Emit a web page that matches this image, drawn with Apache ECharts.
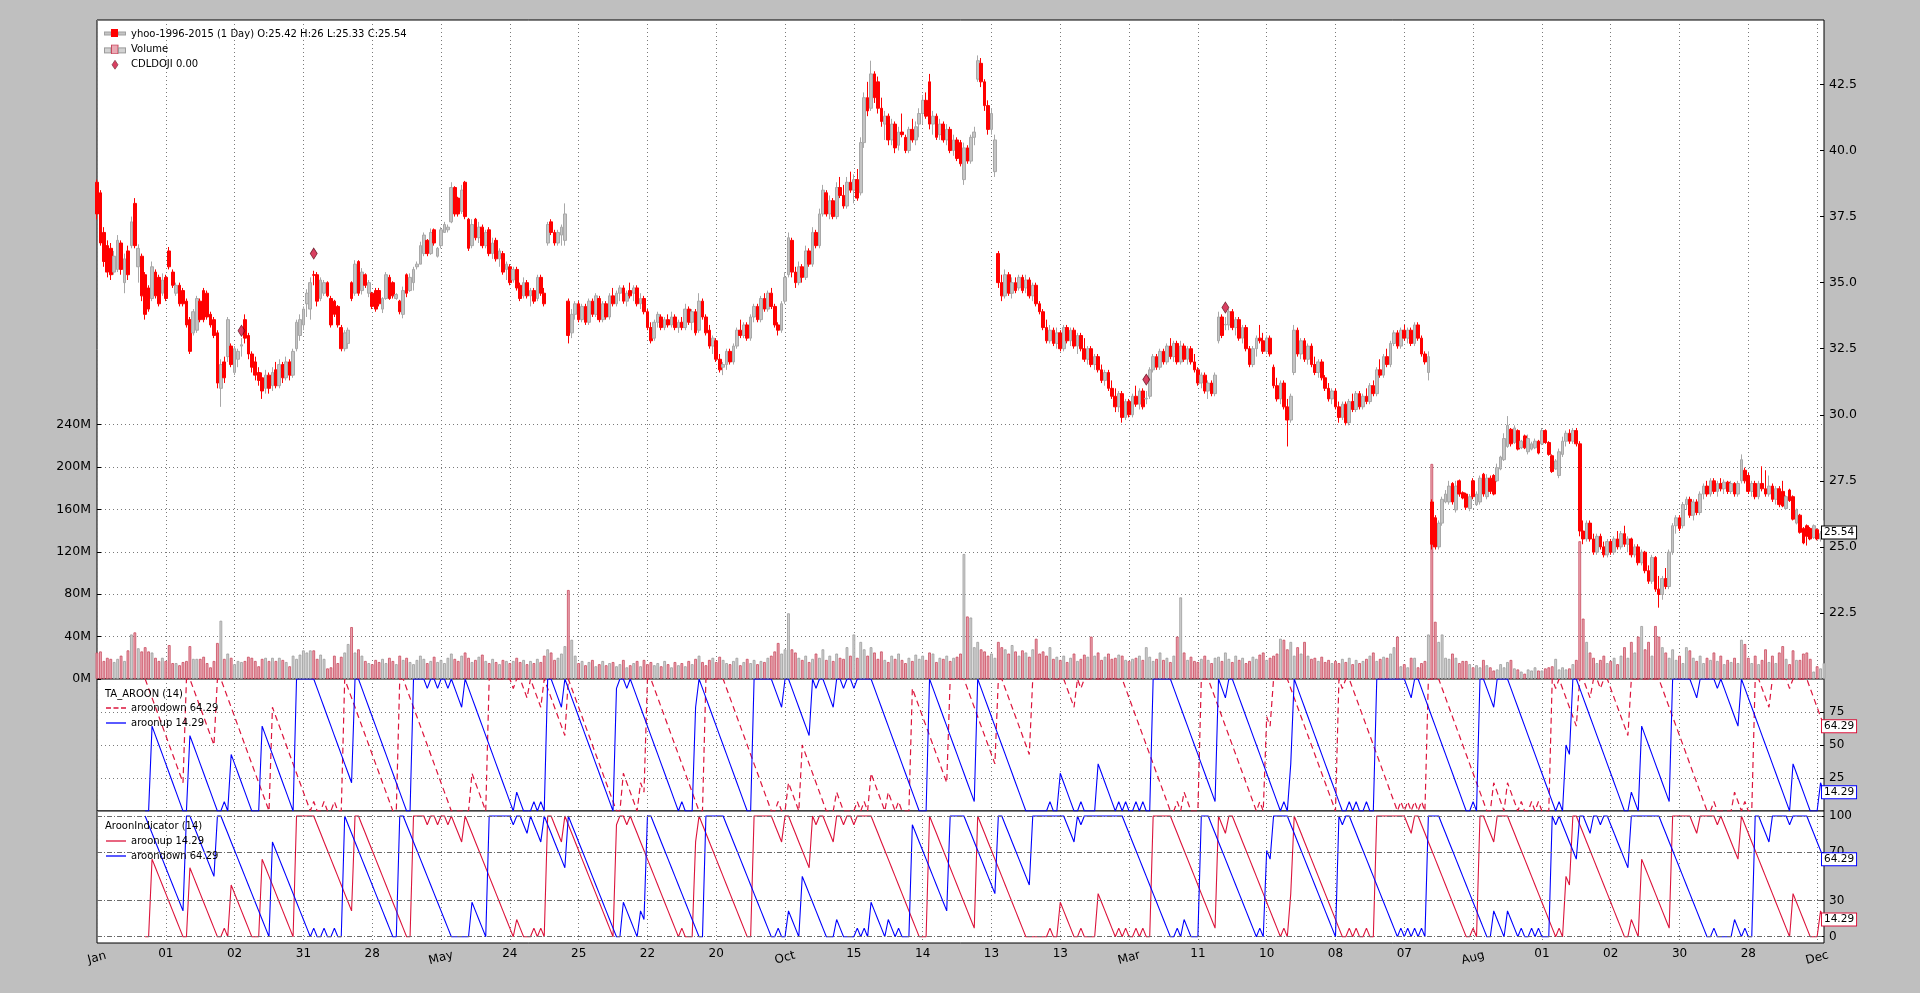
<!DOCTYPE html>
<html><head><meta charset="utf-8">
<script src="https://cdn.jsdelivr.net/npm/echarts@6/dist/echarts.min.js"></script>
<style>html,body{margin:0;padding:0;background:#bfbfbf;}#c{width:1920px;height:993px;}</style>
</head><body><div id="c"></div>
<script>
const tickLabels = ['Jan','01','02','31','28','May','24','25','22','20','Oct','15','14','13','13','Mar','11','10','08','07','Aug','01','02','30','28','Dec'];
const opens = [
38.8,38.4,36.9,36.4,36.3,35.4,35.5,36.5,35.0,36.2,
36.4,38.0,35.6,36.0,35.3,34.8,34.4,35.4,35.2,34.6,
35.2,36.2,35.4,34.6,34.9,34.7,34.3,33.6,33.1,33.2,
34.3,34.7,34.6,33.8,33.6,33.1,31.0,32.0,32.2,32.6,
31.6,32.1,32.6,33.6,33.0,32.3,32.0,31.6,31.4,31.0,
31.5,31.1,31.7,31.1,31.9,31.4,32.0,31.5,32.5,33.0,
33.4,34.2,34.0,35.3,35.3,34.4,34.6,35.0,34.4,34.3,
34.1,33.3,32.5,32.7,35.0,34.6,35.8,34.7,35.3,34.6,
34.6,34.7,34.7,34.0,34.4,35.2,35.0,34.4,34.3,33.8,
35.3,34.7,35.0,35.6,35.7,36.1,36.6,36.1,37.0,36.0,
36.4,36.9,37.0,37.3,38.6,38.2,37.7,38.8,37.4,36.4,
37.4,36.7,37.1,36.4,37.0,36.1,36.6,35.9,36.1,35.5,
35.6,35.1,35.5,34.9,34.5,35.0,34.5,34.7,34.4,35.2,
34.6,36.5,37.3,36.9,36.5,36.8,36.6,34.3,33.1,33.8,
34.2,33.6,34.1,33.5,34.3,33.8,34.4,33.6,34.2,33.7,
34.5,34.2,34.6,34.8,34.3,34.7,34.6,34.8,34.2,34.4,
33.9,33.3,32.9,33.5,33.7,33.3,33.6,33.4,33.7,33.3,
33.5,33.3,34.0,33.5,33.9,33.2,34.3,33.7,33.2,32.6,
32.8,32.1,31.8,31.9,32.4,32.0,32.6,33.2,33.0,33.4,
32.9,33.7,34.1,33.6,34.4,34.0,34.6,34.1,33.4,33.2,
34.3,35.3,36.6,35.4,35.0,35.6,35.2,36.2,35.7,36.9,
36.4,37.6,38.4,37.6,38.1,37.5,38.6,38.3,37.9,38.8,
38.5,38.9,38.4,40.3,42.0,41.6,42.9,42.6,41.6,41.0,
41.3,40.4,41.0,40.2,40.7,40.5,40.0,40.8,40.4,41.0,
41.4,41.9,42.6,41.0,41.3,40.6,41.0,40.4,40.8,40.0,
40.4,40.3,38.9,40.1,39.6,40.5,42.7,43.3,42.6,41.7,
40.8,39.2,36.1,35.0,34.5,35.3,34.6,35.0,34.8,35.2,
34.8,35.1,34.5,34.9,34.2,33.9,33.3,32.8,33.2,32.7,
33.1,32.5,33.3,32.8,33.2,32.6,33.0,32.5,32.1,32.5,
31.9,32.2,31.7,31.3,31.6,31.0,30.7,30.3,30.8,29.9,
30.5,30.0,30.7,30.4,30.9,30.6,30.7,31.7,32.2,31.8,
32.4,32.0,32.6,32.2,32.7,32.0,32.6,32.1,32.5,32.0,
31.7,31.2,31.5,30.9,31.2,30.8,32.8,33.7,33.4,33.4,
33.9,33.3,33.6,32.9,33.3,32.5,31.9,32.5,32.9,32.8,
32.4,32.9,31.8,31.1,30.6,31.2,30.3,29.8,31.6,33.2,
32.3,32.8,32.1,32.6,31.9,31.6,32.0,31.4,31.0,30.6,
30.9,30.3,29.9,30.4,29.7,30.5,30.2,30.8,30.3,30.7,
30.5,31.1,30.8,31.7,31.5,32.2,31.9,32.7,33.1,32.6,
33.2,32.9,33.2,32.7,33.4,32.9,32.3,31.6,26.7,26.1,
25.0,25.9,26.7,26.7,27.4,26.4,27.5,27.05,27.0,26.45,
27.5,26.6,26.7,27.75,26.9,27.6,27.7,27.5,27.95,28.3,
28.8,29.45,28.95,29.4,28.75,29.2,28.6,28.7,28.75,29.0,
28.9,29.4,28.95,28.45,27.95,27.7,28.5,29.0,29.3,29.0,
29.4,28.9,25.6,25.3,25.9,25.3,24.8,25.4,25.0,24.7,
25.2,24.8,25.3,25.0,25.5,25.1,25.3,24.7,25.0,24.4,
24.8,24.1,23.7,24.6,23.4,23.2,23.8,23.5,24.8,25.8,
26.1,25.8,26.6,26.8,26.2,26.7,26.3,27.0,27.3,27.0,
27.5,27.1,27.4,27.2,27.45,27.1,27.4,27.0,27.5,27.9,
27.7,27.1,27.4,26.9,27.4,27.2,27.0,27.3,26.8,27.2,
27.1,26.45,27.15,26.9,25.9,26.2,25.7,25.8,25.7,25.35,
25.65,25.3,25.42];
const highs = [
38.9,38.5,37.1,36.6,36.5,36.2,36.8,36.6,36.1,36.4,
37.5,38.2,36.45,36.1,35.4,34.9,35.8,35.5,35.3,35.35,
35.3,36.35,35.5,35.0,35.0,34.8,34.4,33.7,34.0,34.5,
34.4,34.8,34.7,33.9,33.7,33.2,32.1,32.2,33.7,32.7,
32.6,32.5,32.9,33.8,33.1,32.4,32.2,31.8,31.6,31.7,
31.6,31.8,32.0,32.1,32.0,32.2,32.1,32.5,33.6,33.8,
34.1,34.75,35.2,35.45,35.4,35.2,35.1,35.05,34.5,34.35,
34.15,33.4,33.2,33.3,35.05,35.85,35.85,35.55,35.35,35.1,
34.65,34.8,34.8,34.45,35.4,35.3,35.05,34.6,34.35,34.85,
35.35,35.35,35.6,35.8,36.55,36.9,36.65,37.05,37.05,36.35,
37.1,37.3,37.2,38.8,38.65,38.25,38.7,38.85,37.45,37.4,
37.45,37.3,37.2,37.0,37.1,36.7,36.7,36.3,36.2,35.8,
35.7,35.6,35.6,35.0,35.2,35.1,34.8,34.8,35.3,35.3,
34.8,37.3,37.4,37.0,37.0,37.2,38.0,34.4,34.0,34.3,
34.3,34.2,34.2,34.4,34.4,34.6,34.5,34.3,34.3,34.6,
34.8,34.7,34.9,34.9,34.7,35.0,34.9,34.9,34.6,34.5,
34.0,33.5,33.6,33.9,33.8,33.7,33.8,33.9,33.8,33.6,
33.7,34.2,34.1,34.0,34.0,34.6,34.4,33.8,33.4,33.0,
32.9,32.3,32.0,32.5,32.5,32.7,33.3,33.6,33.5,33.5,
33.8,34.2,34.2,34.5,34.6,34.7,34.8,34.2,33.5,34.3,
35.4,36.9,36.7,35.6,35.8,35.7,36.4,36.3,37.1,37.0,
37.8,38.7,38.5,38.3,38.2,38.8,39.0,38.7,39.0,39.2,
39.1,39.3,40.5,42.2,42.6,43.4,43.0,42.8,42.0,41.5,
41.4,41.2,41.1,40.9,41.4,40.6,40.9,41.2,41.1,41.6,
42.1,42.2,42.9,41.5,41.4,41.2,41.1,41.0,40.9,40.6,
40.5,40.4,40.3,40.2,40.6,40.9,43.6,43.5,42.7,41.9,
41.6,40.6,36.2,35.3,35.5,35.4,35.2,35.2,35.3,35.3,
35.3,35.2,35.0,35.0,34.3,34.0,33.6,33.4,33.3,33.3,
33.2,33.4,33.4,33.3,33.3,33.1,33.1,32.9,32.6,32.6,
32.3,32.3,31.9,31.7,31.7,31.3,31.0,30.9,30.9,30.6,
30.6,30.8,31.1,31.0,31.0,30.9,31.8,32.3,32.3,32.5,
32.5,32.7,32.9,32.8,32.8,32.8,32.7,32.6,32.6,32.3,
31.8,31.6,31.6,31.3,31.3,31.6,33.9,33.8,33.7,34.0,
34.0,33.7,33.7,33.4,33.4,32.6,32.6,33.0,33.4,33.1,
33.0,33.0,31.9,31.4,31.3,31.3,30.6,30.8,33.4,33.3,
32.9,32.9,32.7,32.7,32.2,32.1,32.1,31.5,31.2,31.0,
31.0,30.5,30.5,30.5,30.6,30.8,30.9,30.9,30.8,31.0,
31.2,31.3,31.8,32.1,32.3,32.5,32.8,33.2,33.2,33.3,
33.4,33.3,33.3,33.5,33.5,33.0,32.4,32.4,26.8,26.2,
26.0,26.9,27.15,27.5,27.45,27.5,27.55,27.1,27.05,27.0,
27.6,27.1,27.7,27.8,27.75,27.7,27.75,28.15,28.45,29.3,
29.95,29.5,29.6,29.45,29.05,29.25,29.25,28.98,29.1,29.05,
29.5,29.45,29.0,28.5,28.32,28.72,29.17,29.4,29.45,29.5,
29.5,29.0,26.0,26.0,26.0,25.5,25.5,25.5,25.2,25.3,
25.3,25.4,25.6,25.6,25.8,25.4,25.35,25.1,25.1,24.9,
24.85,24.3,24.7,24.65,23.9,23.9,24.2,24.9,25.9,26.2,
26.2,26.7,26.9,26.9,26.8,26.8,27.1,27.4,27.5,27.6,
27.6,27.5,27.6,27.55,27.5,27.5,27.45,27.5,28.5,28.0,
27.8,27.5,27.5,27.5,28.05,27.9,27.7,27.4,27.3,27.3,
27.5,26.95,27.2,26.95,26.45,26.25,25.75,25.85,25.75,25.85,
25.7,25.6,26];
const lows = [
37.4,36.4,35.6,35.2,35.1,35.3,35.4,35.3,34.6,35.1,
36.3,36.3,35.0,34.3,33.6,33.9,34.3,34.4,34.1,34.5,
34.3,35.5,34.8,34.5,34.1,34.1,33.3,32.3,33.0,33.1,
33.5,33.5,33.6,33.3,32.9,31.0,30.3,31.2,32.0,31.8,
31.5,31.8,32.2,32.7,32.1,31.6,31.3,31.1,30.6,30.8,
30.8,30.9,31.0,31.0,31.2,31.3,31.3,31.4,32.4,32.8,
33.2,33.7,33.6,34.9,34.1,34.3,34.5,34.45,33.3,33.7,
33.3,32.4,32.4,32.5,34.3,34.5,34.5,34.55,34.8,34.45,
34.0,33.9,34.1,33.85,34.35,34.35,34.4,34.35,33.8,33.65,
34.45,34.65,34.7,35.5,35.7,36.0,36.0,36.05,36.4,35.95,
36.3,36.9,36.9,37.25,37.5,37.5,37.6,37.4,36.2,36.3,
36.6,36.5,36.3,36.3,36.0,35.9,35.8,35.6,35.3,35.1,
34.9,35.0,34.7,34.3,34.4,34.4,34.1,34.2,34.3,34.5,
34.1,36.4,36.8,36.4,36.4,36.4,36.4,32.7,32.9,33.6,
33.5,33.5,33.4,33.4,33.7,33.7,33.5,33.5,33.6,33.6,
34.1,34.1,34.3,34.2,34.1,34.4,34.3,34.1,34.0,33.8,
33.2,32.7,32.8,33.3,33.2,33.2,33.3,33.3,33.2,33.1,
33.2,33.2,33.4,33.2,33.0,33.1,33.6,33.0,32.5,32.3,
32.0,31.6,31.5,31.7,31.9,31.9,32.5,32.9,32.9,32.8,
32.8,33.5,33.5,33.5,33.9,33.9,34.0,33.3,33.0,33.1,
34.2,35.2,35.2,34.8,34.9,35.0,35.1,35.6,35.6,36.3,
36.3,37.5,37.5,37.4,37.4,37.4,38.2,37.8,37.8,38.4,
38.0,38.1,38.3,40.1,41.3,41.5,41.8,41.4,40.9,40.4,
40.2,40.2,39.9,40.0,40.5,39.9,39.9,40.3,40.2,40.5,
41.0,41.2,40.8,40.6,40.4,40.4,40.3,40.2,39.9,39.8,
39.6,39.4,38.7,39.5,39.5,40.2,42.6,42.4,41.5,40.6,
40.6,39.0,34.8,34.3,34.4,34.5,34.4,34.6,34.7,34.6,
34.6,34.4,34.3,34.1,33.8,33.2,32.7,32.7,32.6,32.5,
32.4,32.4,32.7,32.6,32.5,32.3,32.4,32.0,31.9,31.8,
31.7,31.6,31.2,31.1,30.9,30.6,30.1,30.1,29.7,29.8,
29.9,29.9,30.3,30.2,30.2,30.4,30.6,31.6,31.7,31.7,
31.9,31.9,32.1,32.0,31.9,31.9,32.0,31.9,31.9,31.6,
31.1,31.0,30.8,30.6,30.7,30.7,32.7,32.9,33.2,33.2,
33.2,33.0,32.8,32.7,32.4,31.8,31.8,32.2,32.7,32.3,
32.3,32.2,31.0,30.5,30.4,30.2,28.8,29.7,31.5,32.2,
32.1,32.0,31.9,31.8,31.5,31.4,31.3,30.9,30.5,30.4,
30.2,29.7,29.8,29.6,29.6,30.1,30.1,30.2,30.2,30.4,
30.4,30.7,30.7,31.4,31.4,31.8,31.8,32.6,32.5,32.5,
32.8,32.7,32.6,32.6,32.8,32.2,31.9,31.3,24.9,24.9,
24.9,25.8,26.65,26.6,26.6,26.3,26.9,26.8,26.4,26.35,
26.8,26.55,26.6,26.9,26.8,27.0,26.95,27.45,27.9,28.25,
28.75,28.8,28.9,28.65,28.7,28.7,28.5,28.65,28.7,28.5,
28.85,28.9,28.45,27.8,27.92,27.6,28.4,28.8,28.9,28.9,
28.8,25.4,25.1,25.2,25.2,24.7,24.7,24.9,24.6,24.6,
24.7,24.7,24.9,24.9,25.0,24.8,24.6,24.6,24.3,24.3,
24.0,23.6,23.6,23.3,22.7,23.0,23.4,23.4,24.7,25.5,
25.6,25.7,26.4,26.1,26.0,26.2,26.2,26.8,26.9,26.9,
27.0,26.9,27.1,27.0,27.0,27.0,26.9,26.9,27.4,27.4,
27.0,26.9,26.8,26.8,27.1,26.9,26.9,26.7,26.6,26.5,
26.5,26.4,26.7,26.0,25.85,25.5,25.1,25.05,25.25,25.3,
25.25,25.2,25.33];
const closes = [
37.6,36.5,35.8,35.4,35.3,36.0,36.6,35.5,35.9,35.3,
37.3,36.4,36.3,34.5,33.8,34.0,35.6,34.5,34.2,35.1,
34.4,35.6,34.9,34.9,34.2,34.2,33.4,32.4,33.9,34.4,
33.6,33.6,33.7,33.4,33.0,31.2,31.9,31.4,33.6,31.9,
32.5,32.4,32.65,32.9,32.3,31.8,31.5,31.3,30.9,31.5,
31.0,31.6,31.1,31.9,31.4,32.0,31.5,32.4,33.5,33.6,
34.0,34.6,35.0,35.28,34.3,35.1,35.0,34.5,33.4,33.8,
33.4,32.5,33.1,33.2,34.4,35.7,34.6,35.4,34.9,35.0,
34.1,34.0,34.2,34.4,35.3,34.4,34.5,34.55,33.9,34.7,
34.6,35.2,35.5,35.7,36.4,36.8,36.1,36.9,36.5,36.3,
37.0,37.2,37.1,38.6,37.6,37.6,38.5,37.5,36.3,37.2,
36.7,37.1,36.4,36.9,36.1,36.5,35.9,36.2,35.4,35.7,
35.0,35.5,34.8,34.4,35.0,34.5,34.7,34.3,35.2,34.6,
34.2,37.2,36.9,36.5,36.9,37.1,37.6,33.0,33.8,34.2,
33.6,34.1,33.5,34.3,33.8,34.5,33.6,34.2,33.7,34.5,
34.2,34.6,34.8,34.3,34.6,34.5,34.8,34.2,34.4,33.9,
33.3,32.8,33.5,33.8,33.3,33.6,33.4,33.7,33.3,33.5,
33.3,34.0,33.5,33.9,33.1,34.3,33.7,33.1,32.6,32.9,
32.1,31.7,31.9,32.4,32.0,32.6,33.2,33.0,33.4,32.9,
33.7,34.1,33.6,34.4,34.0,34.6,34.1,33.4,33.2,34.2,
35.2,36.7,35.4,35.0,35.6,35.2,36.2,35.7,36.9,36.4,
37.6,38.5,37.6,38.1,37.5,38.6,38.3,37.9,38.8,38.5,
38.9,38.2,40.3,42.0,41.5,42.9,42.0,41.6,41.1,41.3,
40.4,41.0,40.1,40.7,40.6,40.0,40.8,40.4,40.9,41.4,
41.9,41.3,41.0,41.3,40.5,41.0,40.4,40.8,40.0,40.4,
39.7,39.5,40.1,39.6,40.5,40.7,43.4,42.6,41.7,40.8,
41.4,40.4,35.0,34.5,35.3,34.6,35.0,34.7,35.2,34.7,
35.1,34.5,34.9,34.2,33.9,33.3,32.8,33.2,32.7,33.1,
32.5,33.3,32.8,33.2,32.6,33.0,32.5,32.1,32.5,31.9,
32.2,31.7,31.3,31.6,31.0,30.7,30.3,30.8,29.9,30.5,
30.0,30.7,30.4,30.9,30.3,30.62,31.7,32.2,31.8,32.4,
32.0,32.6,32.2,32.7,32.0,32.6,32.1,32.5,32.0,31.7,
31.2,31.5,30.9,31.2,30.8,31.5,33.7,33.0,33.42,33.9,
33.3,33.6,32.9,33.3,32.5,31.9,32.5,32.9,32.8,32.4,
32.9,32.3,31.1,30.6,31.2,30.3,29.8,30.7,33.2,32.3,
32.8,32.1,32.6,31.9,31.6,32.0,31.4,31.0,30.6,30.9,
30.3,29.9,30.4,29.7,30.5,30.2,30.8,30.3,30.7,30.5,
31.1,30.8,31.7,31.5,32.2,31.9,32.7,33.1,32.6,33.2,
32.9,33.2,32.7,33.4,32.9,32.3,32.0,32.2,25.1,25.0,
25.9,26.8,27.0,27.3,26.7,27.3,27.0,26.85,26.5,26.9,
26.9,27.0,27.6,27.0,27.6,27.1,27.0,28.0,28.4,29.1,
29.6,28.9,29.5,28.7,29.0,28.75,29.1,28.9,29.0,28.55,
29.4,28.95,28.5,27.85,28.25,28.6,29.0,29.3,29.0,29.4,
28.9,25.6,25.3,25.9,25.3,24.8,25.4,25.0,24.7,25.2,
24.8,25.3,25.0,25.5,25.1,25.3,24.7,25.0,24.4,24.8,
24.1,23.7,24.6,23.4,23.2,23.8,23.5,24.8,25.8,26.1,
25.7,26.6,26.8,26.2,26.7,26.3,27.0,27.3,27.0,27.5,
27.1,27.4,27.2,27.45,27.1,27.4,27.0,27.4,28.3,27.5,
27.1,27.4,26.9,27.4,27.2,27.0,27.3,26.8,27.2,26.6,
26.55,26.9,26.75,26.05,26.4,25.55,25.15,25.4,25.3,25.8,
25.3,25.5,25.54];
// volume in millions of shares
const volumes = [
25,26,17,20,19,16,19,22,17,27, 42,44,29,26,30,26,25,20,17,20,
17,32,15,15,13,16,17,31,19,19, 19,21,15,11,17,34,55,19,24,20,
14,17,16,17,21,20,17,12,19,20, 17,20,17,20,18,16,12,22,19,23,
27,25,27,27,19,23,19,10,11,22, 15,21,25,33,49,25,28,22,17,15,
14,18,16,19,15,20,17,14,22,18, 20,16,14,18,22,19,15,17,21,16,
18,15,20,24,19,17,22,25,20,16, 18,21,23,17,15,19,16,14,18,17,
15,17,20,16,18,14,17,15,19,16, 22,28,25,18,20,24,31,84,37,22,
15,17,13,16,18,12,14,17,13,15, 16,12,14,18,11,13,15,17,12,18,
14,16,13,15,12,17,14,11,16,13, 15,12,17,14,19,22,16,13,18,20,
16,21,18,15,14,17,20,13,16,19, 15,18,14,17,16,20,22,26,34,24,
28,62,28,25,20,18,22,16,19,24, 20,28,18,22,17,24,20,19,30,22,
42,20,35,28,22,30,25,19,26,18, 16,22,19,24,18,15,20,17,23,19,
22,18,25,24,16,20,19,22,17,20, 21,24,118,59,58,30,35,28,26,22,
24,20,35,30,28,24,32,26,22,27, 25,21,28,38,24,26,22,30,19,21,
18,22,16,20,24,17,19,23,21,40, 22,25,18,21,24,19,20,23,22,18,
17,19,20,22,18,30,21,17,19,25, 18,20,16,22,40,77,25,18,21,17,
16,19,22,18,15,20,21,17,25,19, 16,22,18,20,15,17,21,19,23,25,
18,20,22,24,38,37,28,35,22,30, 24,35,22,19,20,17,21,16,18,15,
17,15,19,16,20,14,18,15,17,19, 22,25,17,19,21,20,24,30,40,12,
14,11,20,20,11,15,17,42,203,54, 35,42,20,19,24,20,15,17,17,14,
11,13,11,18,13,11,8,9,14,11, 16,18,10,9,7,5,9,8,11,8,
8,10,11,12,19,9,11,9,10,14, 18,130,57,35,25,20,15,18,22,15,
17,20,14,22,30,20,35,25,40,50, 28,35,22,50,40,30,25,20,28,18,
22,15,30,27,20,17,22,15,20,18, 25,17,22,14,18,16,20,15,37,33,
20,15,22,14,18,28,16,22,15,25, 31,19,14,27,18,18,24,25,19,7,
12,10,15];
const dojiIdx = [42, 63, 305, 328];
const dojiPrice = [33.18, 36.1, 31.33, 34.06];
const aroonUp = [
null,null,null,null,null,null,null,null,null,null,
null,null,null,null,0,0,64.29,57.14,50,42.86,
35.71,28.57,21.43,14.29,7.14,0,0,57.14,50,42.86,
35.71,28.57,21.43,14.29,7.14,0,0,7.14,0,42.86,
35.71,28.57,21.43,14.29,7.14,0,0,0,64.29,57.14,
50,42.86,35.71,28.57,21.43,14.29,7.14,0,100,100,
100,100,100,100,92.86,85.71,78.57,71.43,64.29,57.14,
50,42.86,35.71,28.57,21.43,100,100,92.86,85.71,78.57,
71.43,64.29,57.14,50,42.86,35.71,28.57,21.43,14.29,7.14,
0,0,100,100,100,100,92.86,100,100,92.86,
100,100,92.86,100,92.86,85.71,78.57,100,92.86,85.71,
78.57,71.43,64.29,57.14,50,42.86,35.71,28.57,21.43,14.29,
7.14,0,14.29,7.14,0,0,0,7.14,0,7.14,
0,100,100,92.86,85.71,78.57,100,92.86,85.71,78.57,
71.43,64.29,57.14,50,42.86,35.71,28.57,21.43,14.29,7.14,
0,92.86,100,100,92.86,100,92.86,85.71,78.57,71.43,
64.29,57.14,50,42.86,35.71,28.57,21.43,14.29,7.14,0,
7.14,0,0,0,78.57,100,92.86,85.71,78.57,71.43,
64.29,57.14,50,42.86,35.71,28.57,21.43,14.29,7.14,0,
0,100,100,100,100,100,100,92.86,85.71,78.57,
100,100,92.86,85.71,78.57,71.43,64.29,57.14,100,92.86,
100,100,92.86,85.71,78.57,100,100,92.86,100,100,
92.86,100,100,100,100,100,92.86,85.71,78.57,71.43,
64.29,57.14,50,42.86,35.71,28.57,21.43,14.29,7.14,0,
0,0,100,92.86,85.71,78.57,71.43,64.29,57.14,50,
42.86,35.71,28.57,21.43,14.29,7.14,100,92.86,85.71,78.57,
71.43,64.29,57.14,50,42.86,35.71,28.57,21.43,14.29,7.14,
0,0,0,0,0,0,0,7.14,0,0,
28.57,21.43,14.29,7.14,0,0,7.14,0,0,0,
0,35.71,28.57,21.43,14.29,7.14,0,7.14,0,7.14,
0,0,7.14,0,7.14,0,0,100,100,100,
100,100,100,92.86,85.71,78.57,71.43,64.29,57.14,50,
42.86,35.71,28.57,21.43,14.29,7.14,100,92.86,85.71,100,
100,92.86,85.71,78.57,71.43,64.29,57.14,50,42.86,35.71,
28.57,21.43,14.29,7.14,0,7.14,0,35.71,100,92.86,
85.71,78.57,71.43,64.29,57.14,50,42.86,35.71,28.57,21.43,
14.29,7.14,0,0,7.14,0,7.14,0,0,7.14,
0,0,100,100,100,100,100,100,100,100,
100,92.86,85.71,100,100,92.86,85.71,78.57,71.43,64.29,
57.14,50,42.86,35.71,28.57,21.43,14.29,7.14,0,0,
7.14,0,100,100,92.86,85.71,78.57,100,100,100,
100,92.86,85.71,78.57,71.43,64.29,57.14,50,42.86,35.71,
28.57,21.43,14.29,7.14,0,7.14,0,50,42.86,100,
100,92.86,85.71,78.57,71.43,64.29,57.14,50,42.86,35.71,
28.57,21.43,14.29,7.14,0,0,14.29,7.14,0,64.29,
57.14,50,42.86,35.71,28.57,21.43,14.29,7.14,100,100,
100,100,100,100,92.86,85.71,100,100,100,100,
100,92.86,100,92.86,85.71,78.57,71.43,64.29,100,92.86,
85.71,78.57,71.43,64.29,57.14,50,42.86,35.71,28.57,21.43,
14.29,7.14,0,35.71,28.57,21.43,14.29,7.14,0,0,
0,21.43,14.29];
const aroonDown = [
null,null,null,null,null,null,null,null,null,null,
null,null,null,null,100,92.86,85.71,78.57,71.43,64.29,
57.14,50,42.86,35.71,28.57,21.43,100,100,92.86,85.71,
78.57,71.43,64.29,57.14,50,100,100,92.86,85.71,78.57,
71.43,64.29,57.14,50,42.86,35.71,28.57,21.43,14.29,7.14,
0,78.57,71.43,64.29,57.14,50,42.86,35.71,28.57,21.43,
14.29,7.14,0,7.14,0,0,7.14,0,0,7.14,
0,0,100,92.86,85.71,78.57,71.43,64.29,57.14,50,
42.86,35.71,28.57,21.43,14.29,7.14,0,0,100,100,
92.86,85.71,78.57,71.43,64.29,57.14,50,42.86,35.71,28.57,
21.43,14.29,7.14,0,0,0,0,0,0,28.57,
21.43,14.29,7.14,0,100,100,100,100,100,100,
100,92.86,100,100,92.86,85.71,100,92.86,85.71,78.57,
100,92.86,85.71,78.57,71.43,64.29,57.14,100,92.86,85.71,
78.57,71.43,64.29,57.14,50,42.86,35.71,28.57,21.43,14.29,
7.14,0,0,28.57,21.43,14.29,7.14,0,21.43,14.29,
100,100,92.86,85.71,78.57,71.43,64.29,57.14,50,42.86,
35.71,28.57,21.43,14.29,7.14,0,0,100,100,100,
100,100,100,92.86,85.71,78.57,71.43,64.29,57.14,50,
42.86,35.71,28.57,21.43,14.29,7.14,0,0,7.14,0,
0,21.43,14.29,7.14,0,50,42.86,35.71,28.57,21.43,
14.29,7.14,0,0,0,14.29,7.14,0,0,0,
0,7.14,0,7.14,0,28.57,21.43,14.29,7.14,0,
14.29,7.14,0,7.14,0,0,0,92.86,85.71,78.57,
71.43,64.29,57.14,50,42.86,35.71,28.57,21.43,100,100,
100,100,100,92.86,85.71,78.57,71.43,64.29,57.14,50,
42.86,35.71,100,100,92.86,85.71,78.57,71.43,64.29,57.14,
50,42.86,100,100,100,100,100,100,100,100,
100,100,92.86,85.71,78.57,100,92.86,100,100,100,
100,100,100,100,100,100,100,100,100,92.86,
85.71,78.57,71.43,64.29,57.14,50,42.86,35.71,28.57,21.43,
14.29,7.14,0,0,7.14,0,14.29,7.14,0,0,
0,100,100,100,92.86,85.71,78.57,71.43,64.29,57.14,
50,42.86,35.71,28.57,21.43,14.29,7.14,0,7.14,0,
71.43,64.29,100,100,100,100,100,92.86,85.71,78.57,
71.43,64.29,57.14,50,42.86,35.71,28.57,21.43,14.29,7.14,
0,100,92.86,100,100,92.86,85.71,78.57,71.43,64.29,
57.14,50,42.86,35.71,28.57,21.43,14.29,7.14,0,7.14,
0,7.14,0,7.14,0,7.14,0,100,100,100,
100,92.86,85.71,78.57,71.43,64.29,57.14,50,42.86,35.71,
28.57,21.43,14.29,7.14,0,0,21.43,14.29,7.14,0,
21.43,14.29,7.14,0,7.14,0,0,7.14,0,7.14,
0,0,0,100,92.86,100,92.86,85.71,78.57,71.43,
64.29,100,100,92.86,85.71,100,100,92.86,100,100,
92.86,85.71,78.57,71.43,64.29,57.14,100,100,100,100,
100,100,100,100,100,92.86,85.71,78.57,71.43,64.29,
57.14,50,42.86,35.71,28.57,21.43,14.29,7.14,0,0,
7.14,0,0,0,0,0,14.29,7.14,0,7.14,
0,0,100,100,92.86,85.71,78.57,100,100,100,
100,100,92.86,100,100,100,100,100,92.86,85.71,
78.57,71.43,64.29];

const N = closes.length, L = N - 1;
const cats = closes.map((_, i) => String(i));
const candleData = opens.map((o, i) => [o, closes[i], lows[i], highs[i]]);
const upVol = {color: '#d2d2d2', borderColor: '#9a9a9a', borderWidth: 0.8};
const dnVol = {color: '#eaa9b4', borderColor: '#c8475c', borderWidth: 0.8};
const volData = volumes.map((v, i) => ({value: v, itemStyle: closes[i] >= opens[i] ? upVol : dnVol}));
const dojiData = dojiIdx.map((b, k) => [b, dojiPrice[k]]);
const lastUp = aroonUp[L], lastDown = aroonDown[L];

const mainName = 'yhoo-1996-2015 (1 Day) O:' + opens[L] + ' H:' + highs[L] + ' L:' + lows[L] + ' C:' + closes[L];
const upName = 'aroonup ' + lastUp.toFixed(2);
const dnName = 'aroondown ' + lastDown.toFixed(2);
const CRIMSON = '#dc143c', BLUE = '#0000ff';
const FONT = 'DejaVu Sans';
const dotted = {color: '#7a7a7a', width: 1, type: [1, 3]};
const dashDot = {color: '#6a6a6a', width: 1, type: [5, 2, 1, 2]};
const isTick = (i) => i % 20 === 0;

const svgUrl = (s) => 'image://data:image/svg+xml;charset=utf-8,' + encodeURIComponent(s);
const candleIcon = svgUrl('<svg xmlns="http://www.w3.org/2000/svg" width="22" height="10" viewBox="0 0 22 10"><rect x="0.5" y="3" width="6.5" height="3" fill="#c4c4c4" stroke="#a0a0a0"/><rect x="7" y="0" width="7" height="8" fill="#ff0000"/><rect x="14.5" y="3" width="7" height="3" fill="#c4c4c4" stroke="#a0a0a0"/></svg>');
const volIcon = svgUrl('<svg xmlns="http://www.w3.org/2000/svg" width="22" height="10" viewBox="0 0 22 10"><rect x="0.5" y="3.5" width="6.5" height="5" fill="#d2d2d2" stroke="#9a9a9a"/><rect x="7.5" y="0.5" width="6.5" height="9" fill="#eaa9b4" stroke="#c8475c"/><rect x="14.5" y="3.5" width="7" height="5" fill="#d2d2d2" stroke="#9a9a9a"/></svg>');
const dojiIcon = svgUrl('<svg xmlns="http://www.w3.org/2000/svg" width="22" height="10" viewBox="0 0 22 10"><polygon points="11,0.5 14,5 11,9.5 8,5" fill="#d0103a" stroke="#5a0a18" stroke-width="0.7"/></svg>');
const linePath = 'path://M0,0h20v1.3h-20z';
const dashPath = 'path://M0,0h5v1.3h-5zM7.5,0h5v1.3h-5zM15,0h5v1.3h-5z';

function valueTag(v, color) {
  return {yAxis: v, lineStyle: {color: 'rgba(0,0,0,0)', width: 0}, label: {show: true, position: 'end', distance: -2,
    formatter: v.toFixed(2), color: '#000', fontSize: 10.5, fontFamily: FONT, opacity: 1,
    backgroundColor: '#fff', borderColor: color, borderWidth: 1, padding: [1, 2, 0, 2]}};
}
function gridLine(v) {
  return {yAxis: v, lineStyle: dashDot, label: {show: false}};
}
const xBase = (g) => ({type: 'category', gridIndex: g, data: cats, boundaryGap: false,
  axisLine: {show: false}, axisTick: {show: false}, axisLabel: {show: false},
  splitLine: {show: true, interval: isTick, lineStyle: dotted}, axisPointer: {show: false}});
const legendText = {fontSize: 10, lineHeight: 12, color: '#000', fontFamily: FONT};

const option = {
  backgroundColor: '#bfbfbf',
  animation: false,
  textStyle: {fontFamily: FONT},
  title: [
    {text: 'TA_AROON (14)', left: 105, top: 689, padding: 0, textStyle: {fontSize: 10, fontWeight: 'normal', color: '#000', fontFamily: FONT}},
    {text: 'AroonIndicator (14)', left: 105, top: 821, padding: 0, textStyle: {fontSize: 10, fontWeight: 'normal', color: '#000', fontFamily: FONT}}
  ],
  legend: [
    {orient: 'vertical', left: 104, top: 28, padding: 0, itemWidth: 22, itemHeight: 10, itemGap: 3.4, selectedMode: false, textStyle: legendText,
      data: [{name: mainName, icon: candleIcon}, {name: 'Volume', icon: volIcon}, {name: 'CDLDOJI 0.00', icon: dojiIcon}]},
    {orient: 'vertical', left: 106, top: 702, padding: 0, itemWidth: 20, itemHeight: 1.3, itemGap: 3, selectedMode: false, textStyle: legendText,
      data: [{name: dnName, icon: dashPath, itemStyle: {color: CRIMSON}}, {name: upName, icon: linePath, itemStyle: {color: BLUE}}]},
    {orient: 'vertical', left: 106, top: 835, padding: 0, itemWidth: 20, itemHeight: 1.3, itemGap: 3, selectedMode: false, textStyle: legendText,
      data: [{name: upName, icon: linePath, itemStyle: {color: CRIMSON}}, {name: dnName, icon: linePath, itemStyle: {color: BLUE}}]}
  ],
  grid: [
    {left: 97, top: 20, width: 1727, height: 659, show: true, backgroundColor: '#fff', borderColor: '#000', borderWidth: 1},
    {left: 97, top: 679, width: 1727, height: 132, show: true, backgroundColor: '#fff', borderColor: '#000', borderWidth: 1},
    {left: 97, top: 811, width: 1727, height: 132, show: true, backgroundColor: '#fff', borderColor: '#000', borderWidth: 1}
  ],
  xAxis: [
    xBase(0), xBase(1),
    Object.assign(xBase(2), {axisLabel: {show: true, interval: isTick, margin: 11, verticalAlign: 'middle', fontSize: 12, color: '#000', fontFamily: FONT,
      formatter: (v) => { const t = tickLabels[Math.round(Number(v) / 20)]; return /^[A-Za-z]/.test(t) ? '' : t; }}}),
    {type: 'category', gridIndex: 2, data: cats, boundaryGap: false, position: 'bottom',
      axisLine: {show: false}, axisTick: {show: false}, splitLine: {show: false},
      axisLabel: {show: true, interval: isTick, rotate: 15, align: 'center', verticalAlign: 'middle', margin: 15, fontSize: 12, color: '#000', fontFamily: FONT,
        formatter: (v) => { const t = tickLabels[Math.round(Number(v) / 20)]; return /^[A-Za-z]/.test(t) ? t : ''; }}}
  ],
  yAxis: [
    {type: 'value', gridIndex: 0, position: 'left', min: 0, max: 622, interval: 40,
      axisLine: {show: false},
      axisTick: {show: true, inside: true, length: 4, lineStyle: {color: '#000'}, customValues: [0, 40, 80, 120, 160, 200, 240]},
      axisLabel: {margin: 6, fontSize: 12.5, color: '#000', fontFamily: FONT, customValues: [0, 40, 80, 120, 160, 200, 240], formatter: (v) => v <= 240 ? v + 'M' : ''},
      splitLine: {show: true, lineStyle: dotted}},
    {type: 'value', gridIndex: 0, position: 'right', min: 20, max: 44.94, interval: 2.5,
      axisLine: {show: false},
      axisTick: {show: true, inside: true, length: 4, lineStyle: {color: '#000'}, customValues: [22.5, 25, 27.5, 30, 32.5, 35, 37.5, 40, 42.5]},
      axisLabel: {margin: 5, fontSize: 12.5, color: '#000', fontFamily: FONT, customValues: [22.5, 25, 27.5, 30, 32.5, 35, 37.5, 40, 42.5], formatter: (v) => v.toFixed(1)},
      splitLine: {show: false}},
    {type: 'value', gridIndex: 1, position: 'right', min: 0, max: 100, interval: 25,
      axisLine: {show: false},
      axisTick: {show: true, inside: true, length: 4, lineStyle: {color: '#000'}, customValues: [25, 50, 75]},
      axisLabel: {margin: 5, fontSize: 12, color: '#000', fontFamily: FONT, customValues: [25, 50, 75], formatter: (v) => String(v)},
      splitLine: {show: true, lineStyle: dotted}},
    {type: 'value', gridIndex: 2, position: 'right', min: -5.2, max: 104.2,
      axisLine: {show: false},
      axisTick: {show: true, inside: true, length: 4, lineStyle: {color: '#000'}, customValues: [0, 30, 70, 100]},
      axisLabel: {margin: 5, fontSize: 12, color: '#000', fontFamily: FONT, customValues: [0, 30, 70, 100], formatter: (v) => String(v)},
      splitLine: {show: false}}
  ],
  series: [
    {name: 'Volume', type: 'bar', xAxisIndex: 0, yAxisIndex: 0, data: volData, barWidth: 2.7, z: 1, silent: true},
    {name: mainName, type: 'candlestick', xAxisIndex: 0, yAxisIndex: 1, data: candleData, barWidth: 3.2, z: 3, silent: true,
      itemStyle: {color: '#c4c4c4', color0: '#ff0000', borderColor: '#a8a8a8', borderColor0: '#ff0000', borderWidth: 1},
      markLine: {silent: true, symbol: ['none', 'none'], animation: false, z: 10, data: [valueTag(closes[L], '#000')]}},
    {name: 'CDLDOJI 0.00', type: 'scatter', xAxisIndex: 0, yAxisIndex: 1, data: dojiData, symbol: 'diamond', symbolSize: [7, 11], z: 4, silent: true,
      itemStyle: {color: '#d0103a', borderColor: '#5a0a18', borderWidth: 0.8}},
    {name: dnName, type: 'line', xAxisIndex: 1, yAxisIndex: 2, data: aroonDown, symbol: 'none', silent: true,
      lineStyle: {color: CRIMSON, width: 1.2, type: [6, 4]}, itemStyle: {color: CRIMSON},
      markLine: {silent: true, symbol: ['none', 'none'], animation: false, data: [valueTag(lastDown, CRIMSON)]}},
    {name: upName, type: 'line', xAxisIndex: 1, yAxisIndex: 2, data: aroonUp, symbol: 'none', silent: true,
      lineStyle: {color: BLUE, width: 1.1}, itemStyle: {color: BLUE},
      markLine: {silent: true, symbol: ['none', 'none'], animation: false, data: [valueTag(lastUp, BLUE)]}},
    {name: upName, type: 'line', xAxisIndex: 2, yAxisIndex: 3, data: aroonUp, symbol: 'none', silent: true,
      lineStyle: {color: CRIMSON, width: 1.1}, itemStyle: {color: CRIMSON},
      markLine: {silent: true, symbol: ['none', 'none'], animation: false,
        data: [gridLine(0), gridLine(30), gridLine(70), gridLine(100), valueTag(lastUp, CRIMSON)]}},
    {name: dnName, type: 'line', xAxisIndex: 2, yAxisIndex: 3, data: aroonDown, symbol: 'none', silent: true,
      lineStyle: {color: BLUE, width: 1.1}, itemStyle: {color: BLUE},
      markLine: {silent: true, symbol: ['none', 'none'], animation: false, data: [valueTag(lastDown, BLUE)]}}
  ]
};
const chart = echarts.init(document.getElementById('c'), null, {width: 1920, height: 993});
chart.setOption(option);
</script>
</body></html>
